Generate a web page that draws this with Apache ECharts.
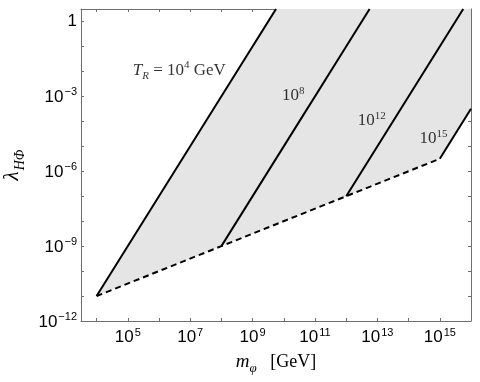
<!DOCTYPE html>
<html>
<head>
<meta charset="utf-8">
<script src="https://cdn.jsdelivr.net/npm/echarts@6/dist/echarts.min.js"></script>
<style>
  html, body { margin: 0; padding: 0; background: #fff; }
  #chart { width: 480px; height: 382px; }
</style>
</head>
<body>
<div id="chart"></div>
<script>
// all values are log10 exponents
const xRange = [3.5, 16];
const yRange = [-12, 0.5];
const xTicks = [4, 5, 6, 7, 8, 9, 10, 11, 12, 13, 14, 15, 16];
const xLabels = [5, 7, 9, 11, 13, 15];
const yTicks = [-12, -11, -10, -9, -8, -7, -6, -5, -4, -3, -2, -1, 0];
const yLabels = [-12, -9, -6, -3, 0];

// lower (dashed) boundary: start points of each T_R line
const startX = [4, 8, 12, 15];
const startY = [-11, -9, -7, -5.5];
// where each T_R line leaves the frame
const endX = [9.75, 12.75, 15.75, 16];
const endY = [0.5, 0.5, 0.5, -3.5];
// corner of the shaded area at top right
const cornerX = [16];
const cornerY = [0.5];

// annotation anchors (data coords) and texts
const noteX = [6.65, 10.3, 12.82, 14.8];
const noteY = [-1.98, -3.0, -4.0, -4.72];
const noteText = [
  '{i|T}{sub|R}{r| = 10}{sup|4}{r| GeV}',
  '{r|10}{sup|8}',
  '{r|10}{sup|12}',
  '{r|10}{sup|15}'
];

const sans = 'Liberation Sans, Arial, sans-serif';
const serif = 'Liberation Serif, Times New Roman, serif';
const frame = '#6e6e6e';

const powLabel = v => {
  if (v === 0) return '{b|1}';
  return '{b|10}{s|' + String(v).replace('-', '\u2212') + '}';
};
const tickRich = {
  b: { fontFamily: sans, fontSize: 17, color: '#000', verticalAlign: 'bottom' },
  s: { fontFamily: sans, fontSize: 11, color: '#000', verticalAlign: 'bottom', padding: [0, 0, 8, 1] }
};

// shaded polygon
const poly = [[startX[0], startY[0]], [endX[0], endY[0]], [cornerX[0], cornerY[0]], [endX[3], endY[3]]];
for (let i = startX.length - 1; i >= 0; i--) poly.push([startX[i], startY[i]]);

const mkX = (pos) => ({
  type: 'value', position: pos, min: xRange[0], max: xRange[1],
  axisLine: { show: true, onZero: false, lineStyle: { color: frame, width: 1 } },
  axisTick: { show: true, inside: true, length: 3, customValues: xTicks, lineStyle: { color: frame } },
  axisLabel: {
    show: pos === 'bottom', customValues: xLabels, margin: 6,
    formatter: powLabel, rich: tickRich
  },
  splitLine: { show: false }
});
const mkY = (pos) => ({
  type: 'value', position: pos, min: yRange[0], max: yRange[1],
  axisLine: { show: true, onZero: false, lineStyle: { color: frame, width: 1 } },
  axisTick: { show: true, inside: true, length: 3, customValues: yTicks, lineStyle: { color: frame } },
  axisLabel: {
    show: pos === 'left', customValues: yLabels, margin: 4,
    formatter: powLabel, rich: tickRich
  },
  splitLine: { show: false }
});

const xA = mkX('bottom');
xA.name = '{i|m}{sub|\u03c6}{r|   [GeV]}';
xA.nameLocation = 'middle';
xA.nameGap = 31;
xA.nameTextStyle = {
  rich: {
    i: { fontFamily: serif, fontStyle: 'italic', fontSize: 19, color: '#000', verticalAlign: 'bottom', padding: [0, 0, 4, 0] },
    sub: { fontFamily: serif, fontStyle: 'italic', fontSize: 13, color: '#000', verticalAlign: 'bottom' },
    r: { fontFamily: serif, fontSize: 18, color: '#000', verticalAlign: 'bottom', padding: [0, 0, 4, 0] }
  }
};
const yA = mkY('left');
yA.name = '{i|\u03bb}{sub|H\u03a6}';
yA.nameLocation = 'middle';
yA.nameGap = 51;
yA.nameTextStyle = {
  rich: {
    i: { fontFamily: serif, fontStyle: 'italic', fontSize: 21, color: '#000', verticalAlign: 'bottom', padding: [0, 1, 5, 0] },
    sub: { fontFamily: serif, fontStyle: 'italic', fontSize: 14, color: '#000', verticalAlign: 'bottom' }
  }
};

const series = [{
  type: 'custom',
  z: 1,
  silent: true,
  data: [0],
  renderItem: (params, api) => ({
    type: 'polygon',
    shape: { points: poly.map(p => api.coord(p)) },
    style: { fill: '#e5e5e5', stroke: 'none' }
  })
}];

startX.forEach((x, i) => {
  series.push({
    type: 'line', z: 3, symbol: 'none', silent: true,
    data: [[x, startY[i]], [endX[i], endY[i]]],
    lineStyle: { color: '#000', width: 2 }
  });
});

series.push({
  type: 'line', z: 3, symbol: 'none', silent: true,
  data: startX.map((x, i) => [x, startY[i]]),
  lineStyle: { color: '#000', width: 2, type: [6, 4] }
});

series.push({
  type: 'scatter', z: 4, symbolSize: 0, silent: true,
  data: noteX.map((x, i) => [x, noteY[i]]),
  label: {
    show: true, position: 'inside',
    formatter: p => noteText[p.dataIndex],
    rich: {
      r: { fontFamily: serif, fontSize: 17, color: '#000', verticalAlign: 'bottom', padding: [0, 0, 3, 0] },
      i: { fontFamily: serif, fontStyle: 'italic', fontSize: 17, color: '#000', verticalAlign: 'bottom', padding: [0, 0, 3, 0] },
      sub: { fontFamily: serif, fontStyle: 'italic', fontSize: 11, color: '#000', verticalAlign: 'bottom' },
      sup: { fontFamily: serif, fontSize: 11, color: '#000', verticalAlign: 'bottom', padding: [0, 0, 11, 0] }
    }
  }
});

const chart = echarts.init(document.getElementById('chart'));
chart.setOption({
  animation: false,
  backgroundColor: '#fff',
  grid: { left: 81, top: 9, right: 9, bottom: 61, containLabel: false, outerBoundsMode: 'none' },
  xAxis: [xA, mkX('top')],
  yAxis: [yA, mkY('right')],
  series: series
});
</script>
</body>
</html>
